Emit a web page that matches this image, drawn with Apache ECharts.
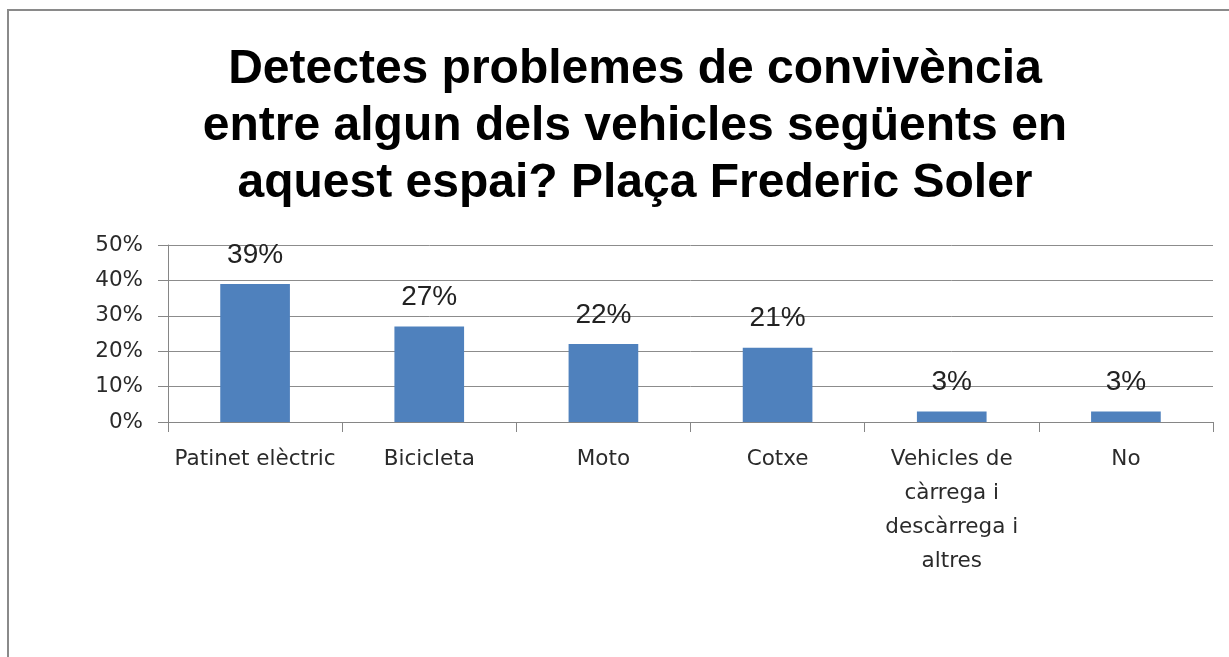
<!DOCTYPE html>
<html lang="ca">
<head>
    <meta charset="UTF-8">
    <title>Plaça Frederic Soler</title>
    <script type="text/javascript" src="https://cdn.jsdelivr.net/npm/echarts@6/dist/echarts.min.js"></script>
    <style>
        html, body { margin: 0; padding: 0; background: #fff; }
        #chart { width: 1229px; height: 657px; }
    </style>
</head>
<body>
<div id="chart"></div>
<script type="text/javascript">
    var categories = ['Patinet elèctric', 'Bicicleta', 'Moto', 'Cotxe',
        'Vehicles de\ncàrrega i\ndescàrrega i\naltres', 'No'];
    var percents = [39, 27, 22, 21, 3, 3];
    var yTicks = [0, 10, 20, 30, 40, 50];

    var titleText = 'Detectes problemes de convivència\nentre algun dels vehicles següents en\naquest espai? Plaça Frederic Soler';

    var myChart = echarts.init(document.getElementById('chart'));
    var option = {
        backgroundColor: '#fff',
        animation: false,
        title: {
            text: titleText,
            left: 630,
            top: 36,
            textAlign: 'center',
            textStyle: {
                fontFamily: 'Liberation Sans',
                fontWeight: 'bold',
                fontSize: 48,
                lineHeight: 57,
                color: '#000'
            }
        },
        graphic: [{
            type: 'rect',
            shape: {x: 8, y: 10, width: 1400, height: 800},
            style: {fill: 'none', stroke: '#8a8a8a', lineWidth: 2},
            silent: true
        }],
        grid: {left: 168, right: 16, top: 245, bottom: 235},
        xAxis: {
            type: 'category',
            data: categories,
            axisLine: {lineStyle: {color: '#868686'}},
            axisTick: {show: true, length: 10, lineStyle: {color: '#868686'}},
            axisLabel: {
                margin: 20,
                fontFamily: 'DejaVu Sans',
                fontSize: 21.5,
                lineHeight: 34,
                color: '#2a2a2a',
                interval: 0
            }
        },
        yAxis: {
            type: 'value',
            min: yTicks[0],
            max: yTicks[yTicks.length - 1],
            interval: 10,
            axisLine: {show: true, lineStyle: {color: '#868686'}},
            axisTick: {show: true, length: 10, lineStyle: {color: '#868686'}},
            splitLine: {lineStyle: {color: '#8c8c8c'}},
            axisLabel: {
                margin: 25,
                fontFamily: 'DejaVu Sans',
                fontSize: 21.5,
                color: '#2a2a2a',
                formatter: '{value}%'
            }
        },
        series: [{
            type: 'bar',
            data: percents,
            barWidth: '40%',
            itemStyle: {color: '#4F81BD'},
            label: {
                show: true,
                position: 'top',
                distance: 15,
                fontFamily: 'Liberation Sans',
                fontSize: 28,
                color: '#222',
                formatter: '{c}%'
            }
        }]
    };
    myChart.setOption(option);
</script>
</body>
</html>
